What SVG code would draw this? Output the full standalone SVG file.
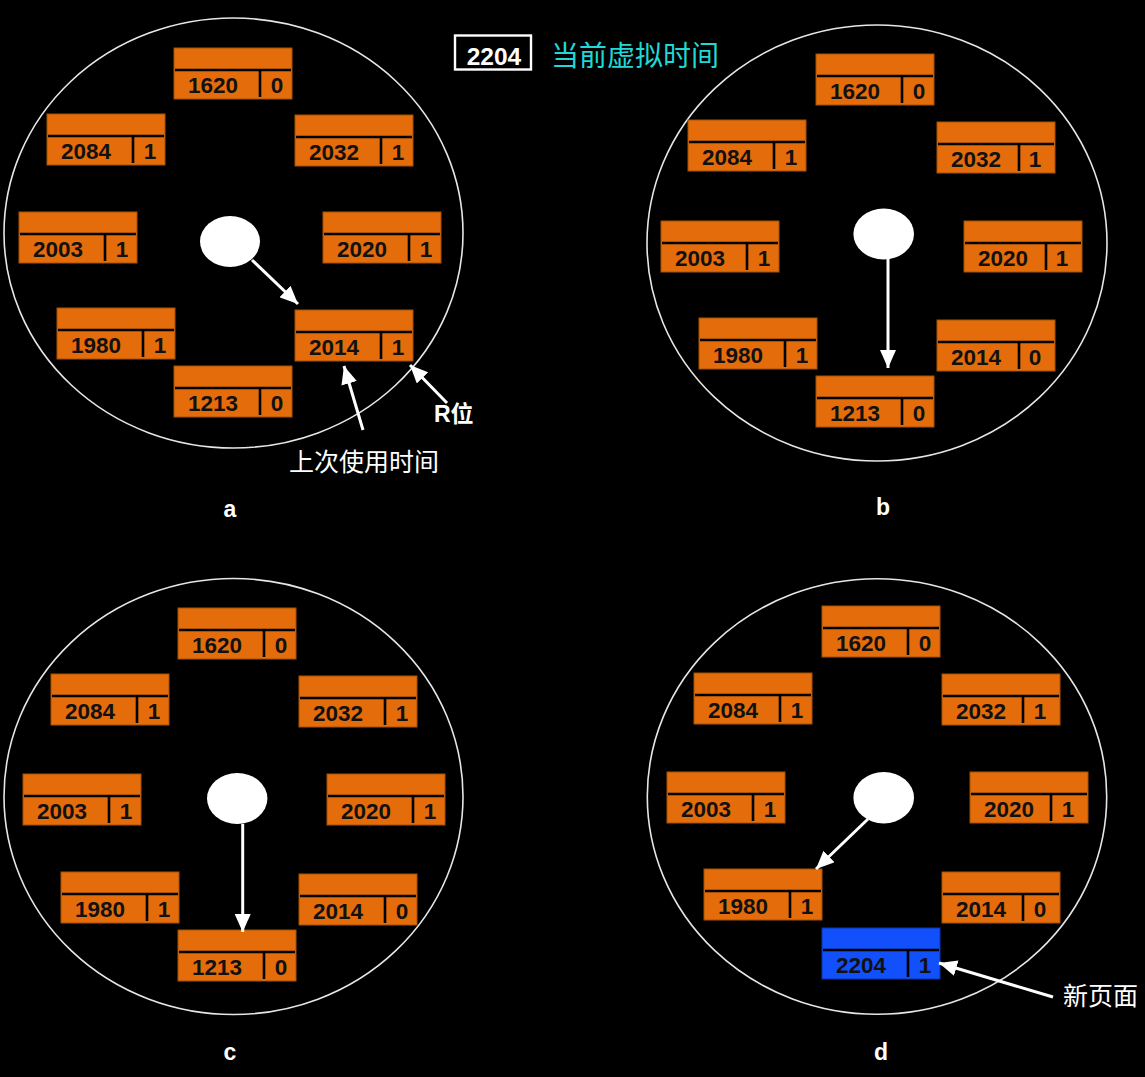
<svg xmlns="http://www.w3.org/2000/svg" width="1145" height="1077" viewBox="0 0 1145 1077">
<defs>
<style>
.ring{fill:none;stroke:#e6e6e6;stroke-width:1.6}
.ptr{fill:#ffffff}
.pg{fill:#e46c0a;stroke:#a65200;stroke-width:1}
.pgn{fill:#1150fb;stroke:#0a35b0;stroke-width:1}
.dv{stroke:#000;stroke-width:2.6}
.num{font-family:"Liberation Sans",Arial,sans-serif;font-weight:bold;font-size:22.5px;fill:#111;text-anchor:middle}
.lbl{font-family:"Liberation Sans",Arial,sans-serif;font-weight:bold;font-size:23px;fill:#fff;text-anchor:middle}
.cjk{font-family:"Liberation Sans","Noto Sans CJK SC",sans-serif;font-size:25px;fill:#fff}
.arr{stroke:#fff;stroke-width:3;fill:none;marker-end:url(#ah)}
</style>
<marker id="ah" markerUnits="userSpaceOnUse" markerWidth="20" markerHeight="16" refX="18" refY="8" orient="auto">
<path d="M0,0 L18,8 L0,16 Z" fill="#fff"/>
</marker>
</defs>
<rect width="1145" height="1077" fill="#000"/>

<g id="title">
<rect x="455" y="35.5" width="76" height="34" fill="none" stroke="#fff" stroke-width="2.4"/>
<text x="494" y="64.5" class="lbl" style="font-size:24.5px">2204</text>
<text x="551" y="66" style="font-family:'Liberation Sans','Noto Sans CJK SC',sans-serif;font-size:28px;fill:#21d8d6">当前虚拟时间</text>
</g>

<!-- panel a -->
<g id="panel-a">
<ellipse class="ring" cx="233.5" cy="233" rx="229.5" ry="215"/>
<ellipse id="a-ptr" class="ptr" cx="230" cy="241.5" rx="30" ry="25.5"/>
<g id="a-1620" transform="translate(174,48)"><rect class="pg" width="118" height="51"/><line class="dv" x1="1" y1="22" x2="117" y2="22"/><line class="dv" x1="86" y1="22" x2="86" y2="49"/><text class="num" x="39" y="44.5">1620</text><text class="num" x="103" y="44.5">0</text></g>
<g id="a-2084" transform="translate(47,114)"><rect class="pg" width="118" height="51"/><line class="dv" x1="1" y1="22" x2="117" y2="22"/><line class="dv" x1="86" y1="22" x2="86" y2="49"/><text class="num" x="39" y="44.5">2084</text><text class="num" x="103" y="44.5">1</text></g>
<g id="a-2032" transform="translate(295,115)"><rect class="pg" width="118" height="51"/><line class="dv" x1="1" y1="22" x2="117" y2="22"/><line class="dv" x1="86" y1="22" x2="86" y2="49"/><text class="num" x="39" y="44.5">2032</text><text class="num" x="103" y="44.5">1</text></g>
<g id="a-2003" transform="translate(19,212)"><rect class="pg" width="118" height="51"/><line class="dv" x1="1" y1="22" x2="117" y2="22"/><line class="dv" x1="86" y1="22" x2="86" y2="49"/><text class="num" x="39" y="44.5">2003</text><text class="num" x="103" y="44.5">1</text></g>
<g id="a-2020" transform="translate(323,212)"><rect class="pg" width="118" height="51"/><line class="dv" x1="1" y1="22" x2="117" y2="22"/><line class="dv" x1="86" y1="22" x2="86" y2="49"/><text class="num" x="39" y="44.5">2020</text><text class="num" x="103" y="44.5">1</text></g>
<g id="a-1980" transform="translate(57,308)"><rect class="pg" width="118" height="51"/><line class="dv" x1="1" y1="22" x2="117" y2="22"/><line class="dv" x1="86" y1="22" x2="86" y2="49"/><text class="num" x="39" y="44.5">1980</text><text class="num" x="103" y="44.5">1</text></g>
<g id="a-2014" transform="translate(295,310)"><rect class="pg" width="118" height="51"/><line class="dv" x1="1" y1="22" x2="117" y2="22"/><line class="dv" x1="86" y1="22" x2="86" y2="49"/><text class="num" x="39" y="44.5">2014</text><text class="num" x="103" y="44.5">1</text></g>
<g id="a-1213" transform="translate(174,366)"><rect class="pg" width="118" height="51"/><line class="dv" x1="1" y1="22" x2="117" y2="22"/><line class="dv" x1="86" y1="22" x2="86" y2="49"/><text class="num" x="39" y="44.5">1213</text><text class="num" x="103" y="44.5">0</text></g>
<text class="cjk" x="289" y="471">上次使用时间</text>
<text class="cjk" x="434" y="422" style="font-size:23px;font-weight:bold">R位</text>
<text class="lbl" x="230" y="516.5">a</text>
</g>

<!-- panel b -->
<g id="panel-b">
<ellipse class="ring" cx="877" cy="243" rx="230" ry="218"/>
<ellipse id="b-ptr" class="ptr" cx="883.7" cy="234" rx="30.3" ry="25.5"/>
<g id="b-1620" transform="translate(816,54)"><rect class="pg" width="118" height="51"/><line class="dv" x1="1" y1="22" x2="117" y2="22"/><line class="dv" x1="86" y1="22" x2="86" y2="49"/><text class="num" x="39" y="44.5">1620</text><text class="num" x="103" y="44.5">0</text></g>
<g id="b-2084" transform="translate(688,120)"><rect class="pg" width="118" height="51"/><line class="dv" x1="1" y1="22" x2="117" y2="22"/><line class="dv" x1="86" y1="22" x2="86" y2="49"/><text class="num" x="39" y="44.5">2084</text><text class="num" x="103" y="44.5">1</text></g>
<g id="b-2032" transform="translate(937,122)"><rect class="pg" width="118" height="51"/><line class="dv" x1="1" y1="22" x2="117" y2="22"/><line class="dv" x1="82" y1="22" x2="82" y2="49"/><text class="num" x="39" y="44.5">2032</text><text class="num" x="98" y="44.5">1</text></g>
<g id="b-2003" transform="translate(661,221)"><rect class="pg" width="118" height="51"/><line class="dv" x1="1" y1="22" x2="117" y2="22"/><line class="dv" x1="86" y1="22" x2="86" y2="49"/><text class="num" x="39" y="44.5">2003</text><text class="num" x="103" y="44.5">1</text></g>
<g id="b-2020" transform="translate(964,221)"><rect class="pg" width="118" height="51"/><line class="dv" x1="1" y1="22" x2="117" y2="22"/><line class="dv" x1="82" y1="22" x2="82" y2="49"/><text class="num" x="39" y="44.5">2020</text><text class="num" x="98" y="44.5">1</text></g>
<g id="b-1980" transform="translate(699,318)"><rect class="pg" width="118" height="51"/><line class="dv" x1="1" y1="22" x2="117" y2="22"/><line class="dv" x1="86" y1="22" x2="86" y2="49"/><text class="num" x="39" y="44.5">1980</text><text class="num" x="103" y="44.5">1</text></g>
<g id="b-2014" transform="translate(937,320)"><rect class="pg" width="118" height="51"/><line class="dv" x1="1" y1="22" x2="117" y2="22"/><line class="dv" x1="82" y1="22" x2="82" y2="49"/><text class="num" x="39" y="44.5">2014</text><text class="num" x="98" y="44.5">0</text></g>
<g id="b-1213" transform="translate(816,376)"><rect class="pg" width="118" height="51"/><line class="dv" x1="1" y1="22" x2="117" y2="22"/><line class="dv" x1="86" y1="22" x2="86" y2="49"/><text class="num" x="39" y="44.5">1213</text><text class="num" x="103" y="44.5">0</text></g>
<text class="lbl" x="883" y="515">b</text>
</g>

<!-- panel c -->
<g id="panel-c">
<ellipse class="ring" cx="233.5" cy="796.5" rx="229.5" ry="218"/>
<ellipse id="c-ptr" class="ptr" cx="237.2" cy="798.5" rx="30.2" ry="25.5"/>
<g id="c-1620" transform="translate(178,608)"><rect class="pg" width="118" height="51"/><line class="dv" x1="1" y1="22" x2="117" y2="22"/><line class="dv" x1="86" y1="22" x2="86" y2="49"/><text class="num" x="39" y="44.5">1620</text><text class="num" x="103" y="44.5">0</text></g>
<g id="c-2084" transform="translate(51,674)"><rect class="pg" width="118" height="51"/><line class="dv" x1="1" y1="22" x2="117" y2="22"/><line class="dv" x1="86" y1="22" x2="86" y2="49"/><text class="num" x="39" y="44.5">2084</text><text class="num" x="103" y="44.5">1</text></g>
<g id="c-2032" transform="translate(299,676)"><rect class="pg" width="118" height="51"/><line class="dv" x1="1" y1="22" x2="117" y2="22"/><line class="dv" x1="86" y1="22" x2="86" y2="49"/><text class="num" x="39" y="44.5">2032</text><text class="num" x="103" y="44.5">1</text></g>
<g id="c-2003" transform="translate(23,774)"><rect class="pg" width="118" height="51"/><line class="dv" x1="1" y1="22" x2="117" y2="22"/><line class="dv" x1="86" y1="22" x2="86" y2="49"/><text class="num" x="39" y="44.5">2003</text><text class="num" x="103" y="44.5">1</text></g>
<g id="c-2020" transform="translate(327,774)"><rect class="pg" width="118" height="51"/><line class="dv" x1="1" y1="22" x2="117" y2="22"/><line class="dv" x1="86" y1="22" x2="86" y2="49"/><text class="num" x="39" y="44.5">2020</text><text class="num" x="103" y="44.5">1</text></g>
<g id="c-1980" transform="translate(61,872)"><rect class="pg" width="118" height="51"/><line class="dv" x1="1" y1="22" x2="117" y2="22"/><line class="dv" x1="86" y1="22" x2="86" y2="49"/><text class="num" x="39" y="44.5">1980</text><text class="num" x="103" y="44.5">1</text></g>
<g id="c-2014" transform="translate(299,874)"><rect class="pg" width="118" height="51"/><line class="dv" x1="1" y1="22" x2="117" y2="22"/><line class="dv" x1="86" y1="22" x2="86" y2="49"/><text class="num" x="39" y="44.5">2014</text><text class="num" x="103" y="44.5">0</text></g>
<g id="c-1213" transform="translate(178,930)"><rect class="pg" width="118" height="51"/><line class="dv" x1="1" y1="22" x2="117" y2="22"/><line class="dv" x1="86" y1="22" x2="86" y2="49"/><text class="num" x="39" y="44.5">1213</text><text class="num" x="103" y="44.5">0</text></g>
<text class="lbl" x="230" y="1060">c</text>
</g>

<!-- panel d -->
<g id="panel-d">
<ellipse class="ring" cx="877" cy="796.5" rx="229.7" ry="217.7"/>
<ellipse id="d-ptr" class="ptr" cx="883.7" cy="797.7" rx="30.3" ry="25.7"/>
<g id="d-1620" transform="translate(822,606)"><rect class="pg" width="118" height="51"/><line class="dv" x1="1" y1="22" x2="117" y2="22"/><line class="dv" x1="86" y1="22" x2="86" y2="49"/><text class="num" x="39" y="44.5">1620</text><text class="num" x="103" y="44.5">0</text></g>
<g id="d-2084" transform="translate(694,673)"><rect class="pg" width="118" height="51"/><line class="dv" x1="1" y1="22" x2="117" y2="22"/><line class="dv" x1="86" y1="22" x2="86" y2="49"/><text class="num" x="39" y="44.5">2084</text><text class="num" x="103" y="44.5">1</text></g>
<g id="d-2032" transform="translate(942,674)"><rect class="pg" width="118" height="51"/><line class="dv" x1="1" y1="22" x2="117" y2="22"/><line class="dv" x1="81" y1="22" x2="81" y2="49"/><text class="num" x="39" y="44.5">2032</text><text class="num" x="98" y="44.5">1</text></g>
<g id="d-2003" transform="translate(667,772)"><rect class="pg" width="118" height="51"/><line class="dv" x1="1" y1="22" x2="117" y2="22"/><line class="dv" x1="86" y1="22" x2="86" y2="49"/><text class="num" x="39" y="44.5">2003</text><text class="num" x="103" y="44.5">1</text></g>
<g id="d-2020" transform="translate(970,772)"><rect class="pg" width="118" height="51"/><line class="dv" x1="1" y1="22" x2="117" y2="22"/><line class="dv" x1="81" y1="22" x2="81" y2="49"/><text class="num" x="39" y="44.5">2020</text><text class="num" x="98" y="44.5">1</text></g>
<g id="d-1980" transform="translate(704,869)"><rect class="pg" width="118" height="51"/><line class="dv" x1="1" y1="22" x2="117" y2="22"/><line class="dv" x1="86" y1="22" x2="86" y2="49"/><text class="num" x="39" y="44.5">1980</text><text class="num" x="103" y="44.5">1</text></g>
<g id="d-2014" transform="translate(942,872)"><rect class="pg" width="118" height="51"/><line class="dv" x1="1" y1="22" x2="117" y2="22"/><line class="dv" x1="81" y1="22" x2="81" y2="49"/><text class="num" x="39" y="44.5">2014</text><text class="num" x="98" y="44.5">0</text></g>
<g id="d-2204" transform="translate(822,928)"><rect class="pgn" width="118" height="51"/><line class="dv" x1="1" y1="22" x2="117" y2="22"/><line class="dv" x1="86" y1="22" x2="86" y2="49"/><text class="num" x="39" y="44.5">2204</text><text class="num" x="103" y="44.5">1</text></g>
<text class="cjk" x="1063" y="1005">新页面</text>
<text class="lbl" x="881" y="1060">d</text>
</g>

<g id="connectors">
<line class="arr" x1="252" y1="260" x2="298" y2="304"/>
<line class="arr" x1="363" y1="430" x2="344" y2="366"/>
<line class="arr" x1="447" y1="403" x2="410" y2="365"/>
<line class="arr" x1="888" y1="259" x2="888" y2="368"/>
<line class="arr" x1="242.7" y1="824" x2="242.7" y2="932"/>
<line class="arr" x1="868" y1="819" x2="816" y2="869"/>
<line class="arr" x1="1053" y1="997" x2="939" y2="963"/>
</g>
</svg>
